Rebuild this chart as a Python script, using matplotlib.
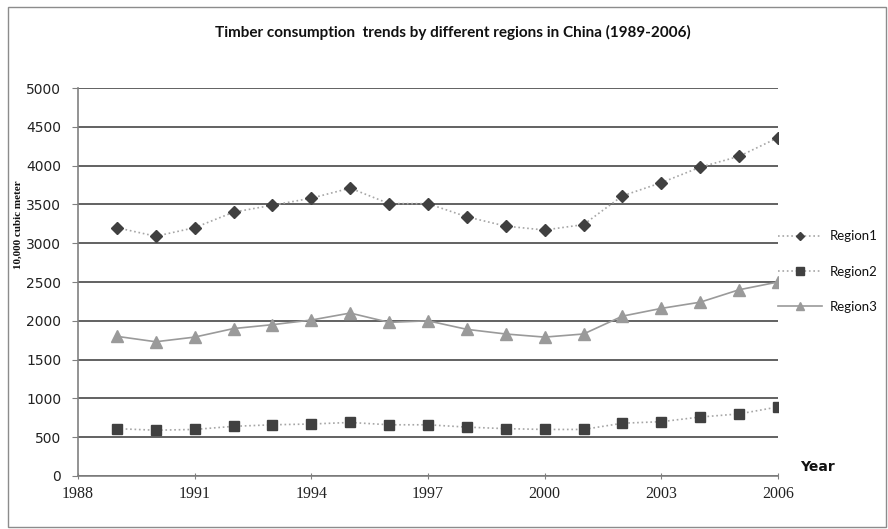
import numpy as np
import matplotlib
matplotlib.use("Agg")
import matplotlib.pyplot as plt
from matplotlib.patches import Rectangle

# timber consumption, 10,000 cubic meter
years = np.arange(1989, 2007)
region1 = [3200, 3090, 3200, 3400, 3490, 3580, 3710, 3510, 3510,
           3340, 3220, 3170, 3240, 3610, 3780, 3980, 4120, 4360]
region2 = [610, 590, 600, 640, 660, 670, 690, 660, 660,
           630, 610, 600, 600, 680, 700, 760, 800, 890]
region3 = [1800, 1730, 1790, 1900, 1950, 2010, 2100, 1980, 2000,
           1890, 1830, 1790, 1830, 2060, 2160, 2240, 2400, 2500]

x_ticks = [1988, 1991, 1994, 1997, 2000, 2003, 2006]
y_ticks = list(range(0, 5001, 500))

fig = plt.figure(figsize=(8.88, 5.29), dpi=100)
ax = fig.add_axes([0.0878, 0.1002, 0.7883, 0.7334])

# outer chart border
fig.patches.append(Rectangle((8 / 888, 2 / 529), 878 / 888, 520 / 529,
                             transform=fig.transFigure, fill=False,
                             edgecolor="#8c8c8c", linewidth=1.0))

ax.plot(years, region1, color="#a6a6a6", linestyle=":", linewidth=1.2,
        marker="D", markersize=6.5, markerfacecolor="#404040",
        markeredgecolor="#404040", label="Region1", zorder=3)
ax.plot(years, region2, color="#a6a6a6", linestyle=":", linewidth=1.2,
        marker="s", markersize=7.5, markerfacecolor="#404040",
        markeredgecolor="#404040", label="Region2", zorder=3)
ax.plot(years, region3, color="#9a9a9a", linestyle="-", linewidth=1.2,
        marker="^", markersize=8, markerfacecolor="#9a9a9a",
        markeredgecolor="#9a9a9a", label="Region3", zorder=3)

ax.set_xlim(1988, 2006)
ax.set_ylim(0, 5000)
ax.set_xticks(x_ticks)
ax.set_yticks(y_ticks)
ax.set_xticklabels([str(t) for t in x_ticks], fontfamily="Liberation Serif",
                   fontsize=11.5, color="#222222")
ax.set_yticklabels([str(t) for t in y_ticks], fontfamily="DejaVu Sans",
                   fontsize=10, color="#222222")
ax.tick_params(axis="x", direction="inout", length=5, color="#808080", pad=5)
ax.tick_params(axis="y", direction="out", length=4, color="#808080", pad=8)

ax.grid(axis="y", color="#555555", linewidth=1.3)
ax.set_axisbelow(True)
for side in ["top", "right"]:
    ax.spines[side].set_visible(False)
for side in ["left", "bottom"]:
    ax.spines[side].set_color("#808080")
    ax.spines[side].set_linewidth(1.2)

fig.text(453 / 888, 1 - 32 / 529,
         "Timber consumption  trends by different regions in China (1989-2006)",
         ha="center", va="center", fontfamily="Lato", fontweight="bold",
         fontsize=11, color="#111111")
fig.text(18 / 888, 1 - 225 / 529, "10,000 cubic meter", rotation=90,
         ha="center", va="center", fontfamily="Liberation Serif",
         fontweight="bold", fontsize=8, color="#111111")
fig.text(817 / 888, 1 - 467 / 529, "Year", ha="center", va="center",
         fontfamily="DejaVu Sans", fontweight="bold", fontsize=10,
         color="#111111")

leg = ax.legend(loc="upper left", bbox_to_anchor=(1.0, 0.633),
                frameon=False, borderpad=0, borderaxespad=0,
                handlelength=3.3, handletextpad=0.6, markerscale=0.7,
                labelspacing=1.75, prop={"family": "Lato", "size": 9.5})
for t in leg.get_texts():
    t.set_color("#111111")

fig.savefig("out.png", dpi=100)
